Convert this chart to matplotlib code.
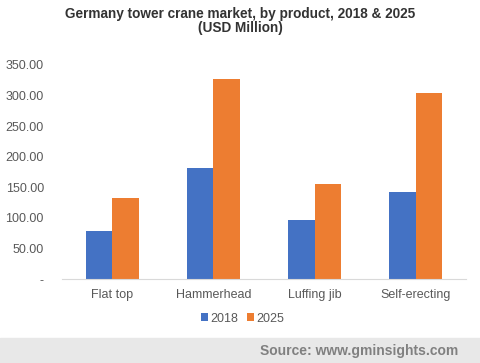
import numpy as np
import matplotlib
matplotlib.use("Agg")
import matplotlib.pyplot as plt
from matplotlib.patches import Rectangle

plt.rcParams["font.family"] = ["Liberation Sans", "DejaVu Sans"]

# Data
products = ["Flat top", "Hammerhead", "Luffing jib", "Self-erecting"]
values_2018 = [78.5, 181.5, 96.5, 142.0]
values_2025 = [132.5, 327.0, 155.5, 304.0]
yticks = [0, 50, 100, 150, 200, 250, 300, 350]

fig = plt.figure(figsize=(4.8, 3.63), dpi=100)
ax = fig.add_axes([0.129, 0.231, 0.842, 0.590])

x = np.arange(len(products))
w = 0.262
ax.bar(x - w / 2, values_2018, w, color="#4472C4", label="2018")
ax.bar(x + w / 2, values_2025, w, color="#ED7D31", label="2025")

ax.set_xlim(-0.5, len(products) - 0.5)
ax.set_ylim(0, 350)
ax.set_yticks(yticks)
ax.set_yticklabels(["-" if v == 0 else f"{v:.2f}" for v in yticks])
ax.set_xticks(x)
ax.set_xticklabels(products)
ax.tick_params(axis="both", length=0, labelsize=9, colors="#595959")
ax.tick_params(axis="x", pad=7)
ax.tick_params(axis="y", pad=13)
for s in ["top", "right", "left"]:
    ax.spines[s].set_visible(False)
ax.spines["bottom"].set_color("#d9d9d9")

fig.text(0.5, 0.962, "Germany tower crane market, by product, 2018 & 2025",
         ha="center", va="center", fontsize=9.8, fontweight="bold", color="#333333")
fig.text(0.5, 0.922, "(USD Million)",
         ha="center", va="center", fontsize=9.8, fontweight="bold", color="#333333")

ax.legend(loc="center", bbox_to_anchor=(0.446, -0.185), ncol=2, frameon=False,
          fontsize=9, handlelength=0.6, handleheight=0.6, handletextpad=0.15,
          columnspacing=0.7, labelcolor="#595959")

# footer band
fig.patches.append(Rectangle((0, 0), 1, 25 / 363, transform=fig.transFigure,
                             color="#e8e8e8", zorder=0))
fig.text(0.955, 12 / 363, "Source: www.gminsights.com", ha="right", va="center",
         fontsize=10, fontweight="bold", color="#808080")

fig.savefig("out.png", dpi=100)
